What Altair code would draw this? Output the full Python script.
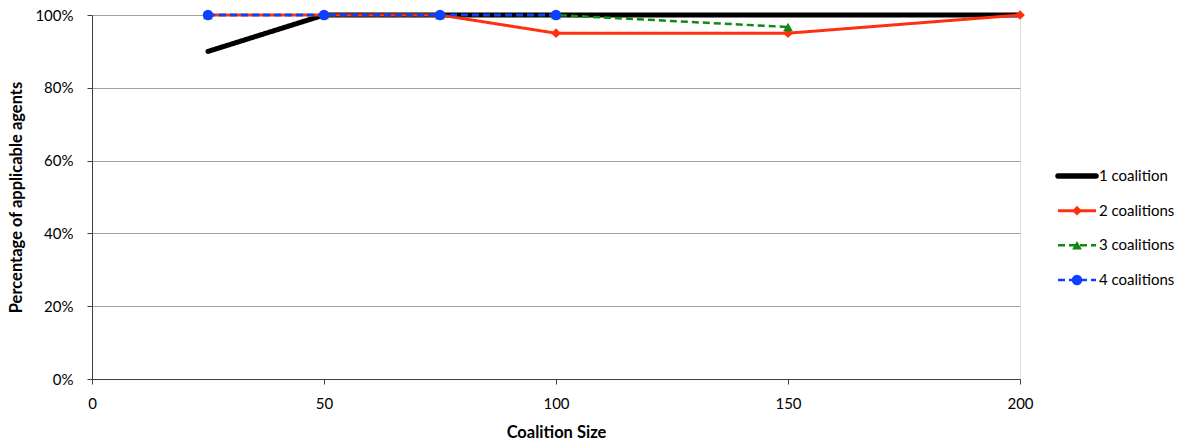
import altair as alt
import pandas as pd

sizes = [25, 50, 75, 100, 150, 200]
series_names = ["1 coalition", "2 coalitions", "3 coalitions", "4 coalitions"]
one = [0.90, 1.00, 1.00, 1.00, 1.00, 1.00]
two = [1.00, 1.00, 1.00, 0.95, 0.95, 1.00]
three = [1.00, 1.00, 1.00, 1.00, 0.967, None]
four = [1.00, 1.00, 1.00, 1.00, None, None]
x_ticks = [0, 50, 100, 150, 200]
y_ticks = [0, 0.2, 0.4, 0.6, 0.8, 1.0]

colors = ["#000000", "#FF3010", "#108A10", "#1040FF"]
widths = [5, 3, 2.5, 2.5]
dashes = [[1, 0], [1, 0], [7, 4], [7, 4]]
shapes = [None, "diamond", "triangle-up", "circle"]
msizes = [0, 95, 95, 110]

values = [one, two, three, four]
FONT = "Lato"

x_scale = alt.Scale(domain=[0, 200], nice=False)
y_scale = alt.Scale(domain=[0, 1], nice=False)

layers = []
for i, name in enumerate(series_names):
    df = pd.DataFrame({"size": sizes, "pct": values[i]}).dropna()
    df["series"] = name
    base = alt.Chart(df).encode(
        x=alt.X("size:Q", scale=x_scale,
                axis=alt.Axis(values=x_ticks, title="Coalition Size", grid=False,
                              labelFontSize=15, labelFont=FONT, labelColor="#000",
                              labelFlush=False,
                              titleFont=FONT, titleFontSize=16.5, titleFontWeight="bold",
                              titleColor="#000", titlePadding=13, domainColor="#404040",
                              tickColor="#404040", tickSize=5, labelPadding=12)),
        y=alt.Y("pct:Q", scale=y_scale,
                axis=alt.Axis(values=y_ticks, format=".0%", title="Percentage of applicable agents",
                              grid=True, gridColor="#A0A0A0", gridWidth=1,
                              labelFontSize=15, labelFont=FONT, labelColor="#000",
                              labelFlush=False,
                              titleFont=FONT, titleFontSize=16.5, titleFontWeight="bold",
                              titleColor="#000", titlePadding=10, domainColor="#404040",
                              tickColor="#404040", tickSize=5, labelPadding=14)),
    )
    layers.append(base.mark_line(color=colors[i], strokeWidth=widths[i],
                                 strokeDash=dashes[i], strokeCap="round" if i == 0 else "butt"))
    if shapes[i]:
        layers.append(base.mark_point(shape=shapes[i], filled=True, color=colors[i],
                                      size=msizes[i], opacity=1))

main = alt.layer(*layers)

leg_df = pd.DataFrame({"series": series_names, "idx": list(range(len(series_names)))})
ly = alt.Y("idx:Q", axis=None,
           scale=alt.Scale(domain=[0, 3], range=[161, 265], nice=False, zero=False))
leg_layers = []
for i, name in enumerate(series_names):
    d = leg_df[leg_df["series"] == name]
    lb = alt.Chart(d).encode(y=ly)
    leg_layers.append(lb.mark_rule(color=colors[i], strokeWidth=widths[i] + (0.5 if i == 0 else 0),
                                   strokeDash=dashes[i] if i >= 2 else [1, 0],
                                   strokeCap="round" if i == 0 else "butt").encode(
        x=alt.value(966), x2=alt.value(1004)))
    if shapes[i]:
        leg_layers.append(lb.mark_point(shape=shapes[i], filled=True, color=colors[i],
                                        size=msizes[i], opacity=1).encode(x=alt.value(985)))
leg_layers.append(alt.Chart(leg_df).mark_text(align="left", baseline="middle", font=FONT,
                                              fontSize=15, color="#000").encode(
    y=ly, x=alt.value(1007), text="series:N"))
legend = alt.layer(*leg_layers)

chart = alt.layer(main, legend).resolve_scale(y="independent").properties(
    width=928, height=364,
    autosize=alt.AutoSizeParams(type="none"),
    padding={"left": 92, "top": 15, "right": 177, "bottom": 66},
).configure_view(stroke=None).configure(background="white")

chart.save("out.html", embed_options={"renderer": "svg", "actions": False})
